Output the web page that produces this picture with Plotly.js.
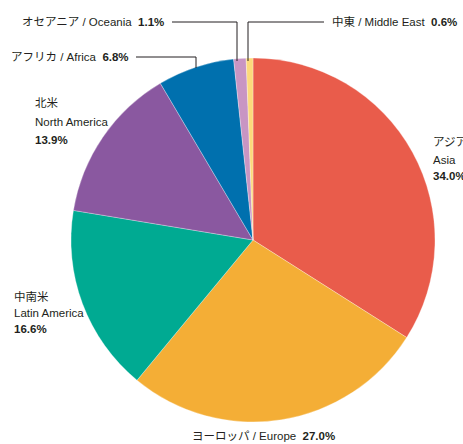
<!DOCTYPE html>
<html>
<head>
<meta charset="utf-8">
<script src="https://cdn.plot.ly/plotly-3.0.1.min.js"></script>
<style>html,body{margin:0;padding:0;background:#fff;}#chart{width:463px;height:444px;}</style>
</head>
<body>
<div id="chart"></div>
<script>
const regionsJa = ["アジア", "ヨーロッパ", "中南米", "北米", "アフリカ", "オセアニア", "中東"];
const regionsEn = ["Asia", "Europe", "Latin America", "North America", "Africa", "Oceania", "Middle East"];
const shares = [34.0, 27.0, 16.6, 13.9, 6.8, 1.1, 0.6];
const colors = ["#E95C4B", "#F4AE36", "#00AA92", "#8A58A0", "#0070AE", "#C895C3", "#FCD97B"];

const W = 463, H = 444;
const px = x => x / W;
const py = y => 1 - y / H;
const FONT = "'Liberation Sans Narrow', 'Liberation Sans', 'Noto Sans CJK JP', sans-serif";
const pct = v => "<b>" + v.toFixed(1) + "%</b>";

const trace = {
  type: "pie",
  labels: regionsEn,
  values: shares,
  sort: false,
  direction: "clockwise",
  rotation: 0,
  textinfo: "none",
  hoverinfo: "none",
  marker: {colors: colors, line: {color: "#ffffff", width: 0.3}},
  domain: {x: [px(71), px(435)], y: [py(422), py(58)]},
  showlegend: false
};

function ann(x, y, text, xanchor, yanchor) {
  return {xref: "paper", yref: "paper", x: px(x), y: py(y), text: text,
    showarrow: false, xanchor: xanchor, yanchor: yanchor || "middle", align: xanchor === "right" ? "right" : "left",
    font: {family: FONT, size: 11.5, color: "#231F20"}};
}

const annotations = [
  ann(166, 22, regionsJa[5] + " / " + regionsEn[5] + "  " + pct(shares[5]), "right"),
  ann(330, 22, regionsJa[6] + " / " + regionsEn[6] + "  " + pct(shares[6]), "left"),
  ann(131, 57, regionsJa[4] + " / " + regionsEn[4] + "  " + pct(shares[4]), "right"),
  ann(33, 103, regionsJa[3], "left"), ann(33, 122, regionsEn[3], "left"), ann(33, 140, pct(shares[3]), "left"),
  ann(431, 142, regionsJa[0], "left"), ann(431, 160, regionsEn[0], "left"), ann(431, 176, pct(shares[0]), "left"),
  ann(12, 296, regionsJa[2], "left"), ann(12, 313, regionsEn[2], "left"), ann(12, 329, pct(shares[2]), "left"),
  ann(190, 436, regionsJa[1] + " / " + regionsEn[1] + "  " + pct(shares[1]), "left")
];

const lineStyle = {color: "#231F20", width: 1};
const shapes = [
  {type: "path", xref: "paper", yref: "paper", line: lineStyle,
   path: `M ${px(172)} ${py(22)} L ${px(237)} ${py(22)} L ${px(237)} ${py(61)}`},
  {type: "path", xref: "paper", yref: "paper", line: lineStyle,
   path: `M ${px(324)} ${py(22)} L ${px(248)} ${py(22)} L ${px(248)} ${py(61)}`},
  {type: "path", xref: "paper", yref: "paper", line: lineStyle,
   path: `M ${px(136)} ${py(57)} L ${px(196)} ${py(57)} L ${px(196)} ${py(68)}`}
];

const layout = {
  width: W, height: H,
  margin: {l: 0, r: 0, t: 0, b: 0},
  paper_bgcolor: "#ffffff",
  annotations: annotations,
  shapes: shapes,
  font: {family: FONT}
};

Plotly.newPlot("chart", [trace], layout, {displayModeBar: false, staticPlot: true});
</script>
</body>
</html>
